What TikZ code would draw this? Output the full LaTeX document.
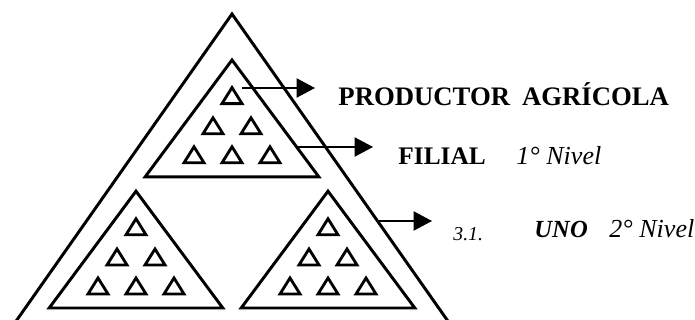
\documentclass[tikz,border=0pt]{standalone}
\usepackage{fontspec}
\setmainfont{Liberation Serif}
\usetikzlibrary{arrows.meta,calc}

\begin{document}
\begin{tikzpicture}[line width=2.1pt,>={Triangle[length=0.46cm,width=0.48cm]},
  pointer/.style={->,line width=1pt},
  lbl/.style={anchor=base west,inner sep=0pt}]
\useasboundingbox (0,0) rectangle (17.375,8);
\clip (0,0) rectangle (17.375,8);
% ---------- outer triangle ----------
\draw (0,-0.6) -- (5.8,7.65) -- (11.6,-0.6);
% ---------- three groups of six ----------
\foreach \gx/\gy in {5.8/3.58, 3.4/0.3, 8.2/0.3}{
  \begin{scope}[shift={(\gx,\gy)}]
    \draw (-2.17,0) -- (2.17,0) -- (0,2.92) -- cycle;
    \foreach \sx/\sy in {0/2.03, -0.475/1.275, 0.475/1.275, -0.95/0.55, 0/0.55, 0.95/0.55}{
      \draw[line width=2pt] (\sx-0.25,\sy-0.2) -- (\sx+0.25,\sy-0.2) -- (\sx,\sy+0.2) -- cycle;}
  \end{scope}}
% ---------- labels ----------
\node[lbl,font=\fontsize{19}{22}\selectfont\bfseries] (prod) at (8.425,5.35) {PRODUCTOR\hspace{0.45em}AGRÍCOLA};
\node[lbl,font=\fontsize{18}{21}\selectfont\bfseries] (filial) at (9.925,3.875) {FILIAL};
\node[lbl,font=\fontsize{18.5}{21}\selectfont\itshape] (nivA) at (12.875,3.875) {1° Nivel};
\node[lbl,font=\fontsize{14}{16}\selectfont\itshape] (num) at (11.3,1.99) {3.1.};
\node[lbl,font=\fontsize{17.5}{20}\selectfont\bfseries\itshape] (uno) at (13.325,2.05) {UNO};
\node[lbl,font=\fontsize{18.5}{21}\selectfont\itshape] (nivB) at (15.2,2.05) {2° Nivel};
% ---------- arrows ----------
\coordinate (pA) at (6.05,5.8);
\coordinate (pB) at (7.45,4.325);
\coordinate (pC) at (9.45,2.475);
\draw[pointer,shorten >=0.55cm] (pA) -- (pA -| prod.west);
\draw[pointer,shorten >=0.6cm] (pB) -- (pB -| filial.west);
\draw[pointer,shorten >=0.5cm] (pC) -- (pC -| num.west);
\end{tikzpicture}
\end{document}
